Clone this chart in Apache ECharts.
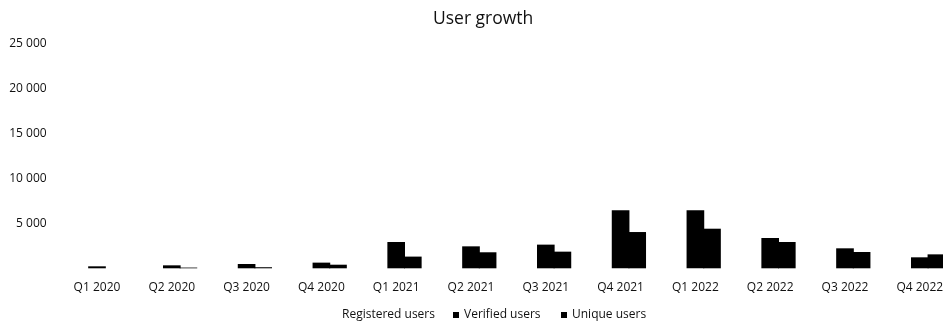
<!DOCTYPE html>
<html>
<head>
<meta charset="utf-8">
<script src="https://cdn.jsdelivr.net/npm/echarts@6/dist/echarts.min.js"></script>
<style>
html,body{margin:0;padding:0;background:#fff;overflow:hidden;width:943px;height:322px;}
#c{width:980px;height:322px;}
</style>
</head>
<body>
<div id="c"></div>
<script>
const categories = ['Q1 2020','Q2 2020','Q3 2020','Q4 2020','Q1 2021','Q2 2021','Q3 2021','Q4 2021','Q1 2022','Q2 2022','Q3 2022','Q4 2022'];
const registeredUsers = [null,null,null,null,null,null,null,null,null,null,null,null];
const verifiedUsers = [220, 330, 480, 630, 2920, 2440, 2630, 6440, 6440, 3370, 2220, 1220];
const uniqueUsers = [0, 80, 120, 400, 1300, 1780, 1850, 4030, 4400, 2925, 1810, 1550];
const yTicks = [0, 5000, 10000, 15000, 20000, 25000];

const FONT = '"Open Sans", sans-serif';
const chart = echarts.init(document.getElementById('c'), null, {renderer:'canvas'});
function fmt(v){
  if (v === 0) return '';
  return String(v).replace(/\B(?=(\d{3})+(?!\d))/g, ' ');
}
const legendBase = {
  orient:'horizontal', icon:'rect', itemWidth:6, itemHeight:6, padding:0,
  textStyle:{fontFamily:FONT, fontSize:12, color:'#111'},
  selectedMode:false, top:309
};
chart.setOption({
  animation:false,
  backgroundColor:'#fff',
  title:{
    text:'User growth', left:428, top:5,
    textStyle:{fontFamily:FONT, fontSize:17.5, fontWeight:'normal', color:'#111'}
  },
  legend:[
    Object.assign({}, legendBase, {left:331, data:['Registered users']}),
    Object.assign({}, legendBase, {left:453, data:['Verified users']}),
    Object.assign({}, legendBase, {left:561, data:['Unique users']})
  ],
  grid:{left:59.6, top:43.3, width:897.6, height:225, containLabel:false},
  xAxis:{
    type:'category', data:categories,
    axisLine:{show:false}, axisTick:{show:false},
    axisLabel:{fontFamily:FONT, fontSize:12, color:'#111', margin:13, interval:0}
  },
  yAxis:{
    type:'value', min:yTicks[0], max:yTicks[yTicks.length-1], interval:5000,
    splitLine:{show:false}, axisLine:{show:false}, axisTick:{show:false},
    axisLabel:{fontFamily:FONT, fontSize:12, color:'#111', margin:13, formatter:fmt}
  },
  series:[
    {name:'Registered users', type:'bar', data:registeredUsers, barGap:'-6%', barCategoryGap:'32%',
     itemStyle:{color:'rgba(255,255,255,0)'}},
    {name:'Verified users', type:'bar', data:verifiedUsers, barGap:'-6%', barCategoryGap:'32%',
     itemStyle:{color:'#000'}},
    {name:'Unique users', type:'bar', data:uniqueUsers, barGap:'-6%', barCategoryGap:'32%',
     itemStyle:{color:'#000'}}
  ]
});
</script>
</body>
</html>
